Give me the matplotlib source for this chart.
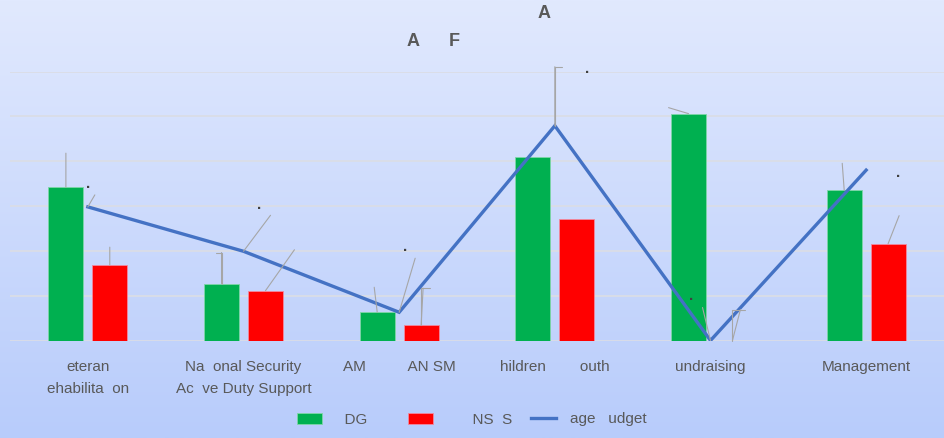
import matplotlib.pyplot as plt
import numpy as np

plt.rcParams['font.family'] = ['Liberation Sans', 'DejaVu Sans']

categories = ['eteran\nehabilita  on', 'Na  onal Security\nAc  ve Duty Support',
              'AM          AN SM', 'hildren        outh', 'undraising', 'Management']
green_vals = [34.2, 12.7, 6.3, 40.9, 50.6, 33.5]
red_vals = [16.8, 11.1, 3.4, 27.1, 0.0, 21.6]
line_vals = [29.8, 19.9, 6.3, 47.9, 0.0, 38.0]
legend_labels = ['  DG     ', '      NS  S', 'age   udget']

GREEN = '#00b050'
RED = '#ff0000'
BLUE = '#4472c4'
TXT = '#595959'
LEAD = '#a6a6a6'

fig = plt.figure(figsize=(9.44, 4.38), dpi=100)

# gradient background
bg = fig.add_axes([0, 0, 1, 1], zorder=-10)
top = np.array([225, 233, 254]) / 255
bot = np.array([184, 204, 251]) / 255
t = np.linspace(0, 1, 256)[:, None]
grad = top[None, :] * (1 - t) + bot[None, :] * t
bg.imshow(grad[:, None, :], aspect='auto', extent=[0, 1, 0, 1])
bg.axis('off')

ax = fig.add_axes([10 / 944, 1 - 340.5 / 438, 934 / 944, (340.5 - 71.5) / 438])
ax.set_facecolor('none')

x = np.arange(len(categories))
w = 0.225
b1 = ax.bar(x - 0.141, green_vals, w, color=GREEN, edgecolor='#7fd6a8', linewidth=0.6,
            label=legend_labels[0], zorder=3)
b2 = ax.bar(x + 0.141, red_vals, w, color=RED, edgecolor='#f08aa0', linewidth=0.6,
            label=legend_labels[1], zorder=3)
l1, = ax.plot(x, line_vals, color=BLUE, lw=2.4, label=legend_labels[2], zorder=4,
              solid_joinstyle='miter')

ax.set_xlim(-0.5, len(categories) - 0.5)
ax.set_ylim(0, 60)
ax.set_yticks(np.arange(0, 61, 10))
ax.yaxis.grid(True, color='#dadde6', lw=1.3, zorder=0)
ax.set_yticklabels([])
ax.tick_params(axis='y', length=0)
ax.set_xticks(x)
ax.set_xticklabels(categories, fontsize=11, color=TXT, linespacing=1.75)
ax.tick_params(axis='x', length=0, pad=14)
for s in ax.spines.values():
    s.set_visible(False)

# data label leader lines (label text itself lost, only dots remain)
def leader(xv, yv, dx, dy, hook=0):
    ax.annotate('', xy=(xv, yv), xytext=(dx, dy), textcoords='offset pixels',
                arrowprops=dict(arrowstyle='-', color=LEAD, lw=0.8,
                                shrinkA=0, shrinkB=0, patchA=None),
                zorder=5)
    if hook:
        ax.annotate('', xy=(xv, yv), xytext=(dx + hook, dy),
                    textcoords='offset pixels',
                    arrowprops=dict(arrowstyle='-', color=LEAD, lw=0.8,
                                    shrinkA=0, shrinkB=0, patchA=None,
                                    connectionstyle='angle,angleA=0,angleB=90,rad=0'),
                    zorder=5)

def dot(xv, yv, dx, dy):
    ax.annotate('.', xy=(xv, yv), xytext=(dx, dy - 1), textcoords='offset pixels',
                ha='center', va='baseline', fontsize=11, fontweight='bold',
                color='#404040', zorder=6)

green_lead = [(0, 34, 0), (0, 31, -6), (-3, 25, 0), None, (-20, 6, 0), (-2, 27, 0)]
red_lead = [(0, 18, 0), (29, 41, 0), (2, 37, 7), None, (8, 31, 5), (11, 28, 0)]
line_lead = [(7, 12, 0), (27, 36, 0), (16, 54, 0), (0, 59, 7), (-8, 33, 0), None]
line_dot = [(0, 20), (16, 43), (6, 62), (32, 54), (-19, 41), (32, -6)]

for i in range(len(categories)):
    if green_lead[i]:
        leader(x[i] - 0.141, green_vals[i], *green_lead[i])
    if red_lead[i]:
        leader(x[i] + 0.141, red_vals[i], *red_lead[i])
    if line_lead[i]:
        leader(x[i], line_vals[i], *line_lead[i])
    dot(x[i], line_vals[i], *line_dot[i])

# title fragments
fig.text(544 / 944, 1 - 14 / 438, 'A', ha='center', va='center', fontsize=13,
         fontweight='bold', color=TXT)
fig.text(413 / 944, 1 - 41 / 438, 'A', ha='center', va='center', fontsize=13,
         fontweight='bold', color=TXT)
fig.text(454 / 944, 1 - 41 / 438, 'F', ha='center', va='center', fontsize=13,
         fontweight='bold', color=TXT)

leg = fig.legend(handles=[b1, b2, l1], loc='center',
                 bbox_to_anchor=(0.5, 1 - 419.5 / 438), ncol=3,
                 frameon=False, fontsize=11, handlelength=1.65, handletextpad=0.9,
                 columnspacing=1.25)
for txt in leg.get_texts():
    txt.set_color(TXT)

fig.savefig('out.png', dpi=100)
